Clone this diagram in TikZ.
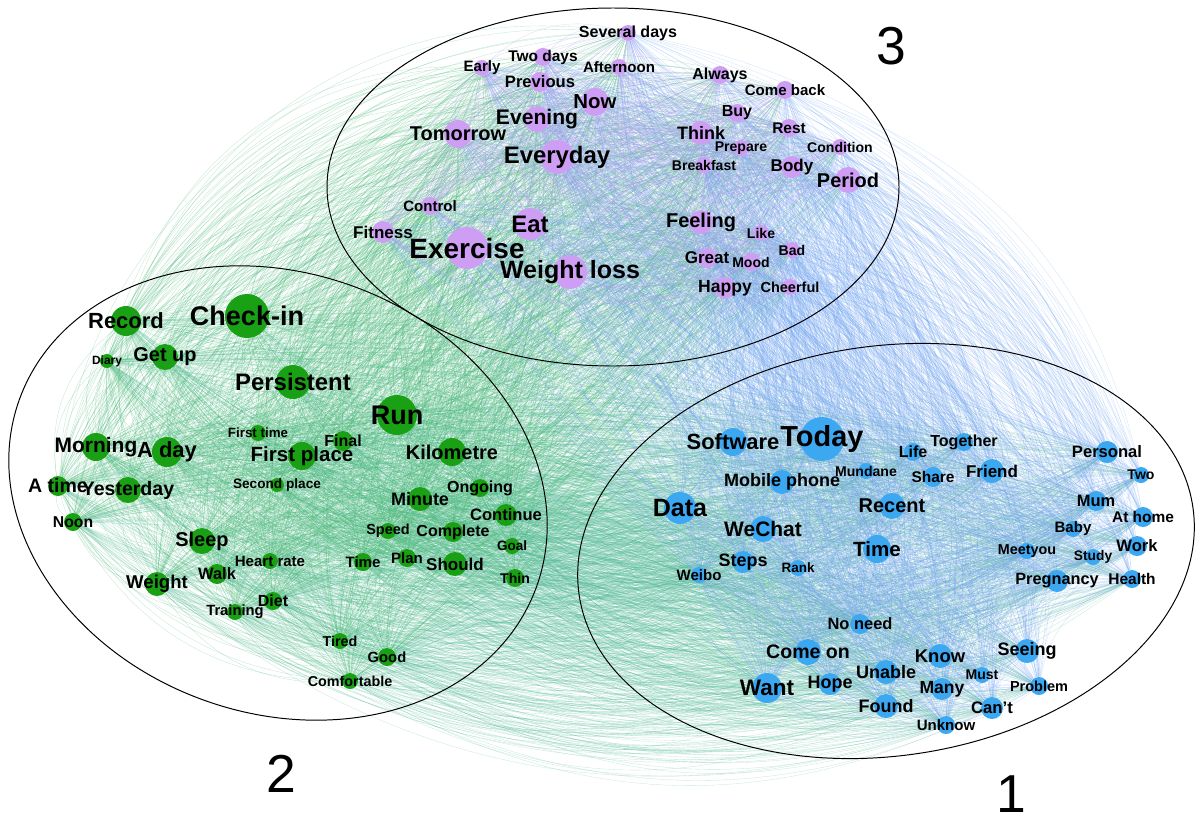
\documentclass[tikz,border=0pt]{standalone}
\usepackage{fontspec}
\setmainfont{Liberation Sans}
\definecolor{wGreen}{RGB}{25,160,20}
\definecolor{wBlue}{RGB}{60,168,242}
\definecolor{wPurple}{RGB}{205,158,244}
\definecolor{eGreen}{RGB}{70,182,118}
\definecolor{eTeal}{RGB}{75,182,145}
\definecolor{eBlue}{RGB}{115,165,240}
\definecolor{ePurple}{RGB}{175,155,242}
\pgfdeclarelayer{edges}
\pgfsetlayers{edges,main}

% word lists: name/x/y/radius/text/font size
\def\wordsThree{sevdays/628/33/8/Several days/11.4,
twodays/543/57/9/Two days/11,
early/482/68/8/Early/10.7,
afternoon/619/67/8/Afternoon/10.7,
previous/540/82/10/Previous/11.8,
now/595/102/14/Now/14.5,
evening/537/119/13/Evening/15,
tomorrow/458/134/14/Tomorrow/14.2,
everyday/557/157/17/Everyday/17,
always/720/75/9/Always/11.4,
comeback/785/90/9/Come back/10.7,
buy/737/113/9/Buy/11.4,
think/701/133/12/Think/12.8,
rest/789/128/9/Rest/11,
prepare/741/148/8/Prepare/10,
condition/840/147/8/Condition/10,
breakfast/704/165/8/Breakfast/10,
body/792/167/11/Body/12.1,
period/848/180/13/Period/14.2,
control/430/206/9/Control/10.7,
fitness/383/232/11/Fitness/12.1,
exercise/467/248/21/Exercise/19.9,
eat/530/224/16/Eat/17,
weightloss/570/272/17/Weight loss/17.8,
feeling/701/222/12/Feeling/14.2,
like/761/233/8/Like/10,
bad/792/250/8/Bad/10,
great/707/258/10/Great/12.1,
mood/751/262/9/Mood/10,
happy/725/288/11/Happy/12.5,
cheerful/790/287/8/Cheerful/10.3}

\def\wordsTwo{record/126/321/15/Record/15.6,
checkin/247/316/22/Check-in/19.2,
diary/107/361/7/Diary/8.5,
getup/165/357/13/Get up/14.2,
persistent/293/382/17/Persistent/17,
firsttime/258/433/8/First time/9.5,
morning/96/447/14/Morning/14.9,
aday/167/452/15/A day/15.6,
run/397/415/20/Run/19.2,
final/343/441/10/Final/11.4,
firstplace/302/456/14/First place/14.6,
kilometre/452/452/14/Kilometre/14.2,
secondplace/277/485/7/Second place/9.7,
ongoing/480/488/9/Ongoing/11.4,
minute/420/499/12/Minute/12.8,
continue/506/515/11/Continue/11.8,
speed/388/531/8/Speed/10.3,
complete/453/532/10/Complete/11.4,
goal/512/546/8/Goal/9.6,
heartrate/270/561/8/Heart rate/10.7,
timeg/363/562/9/Time/10.7,
plan/407/558/9/Plan/10.7,
should/455/564/12/Should/12.1,
thin/515/578/9/Thin/10,
atime/58/486/10/A time/13.9,
yesterday/128/490/13/Yesterday/13.9,
noon/73/522/9/Noon/11.2,
sleep/202/541/13/Sleep/14.2,
walk/217/574/10/Walk/11.7,
weight/157/584/12/Weight/13.2,
diet/273/601/9/Diet/11.4,
training/235/612/8/Training/10.5,
tired/340/641/8/Tired/10.2,
good/387/657/9/Good/10.5,
comfortable/350/681/8/Comfortable/10.2}

\def\wordsOne{software/733/442/14/Software/15.6,
today/822/439/22/Today/20.6,
mobilephone/782/482/12/Mobile phone/12.8,
mundane/866/471/8/Mundane/10,
data/680/508/16/Data/17.8,
recent/892/506/13/Recent/14.2,
wechat/763/529/13/WeChat/14.9,
timeb/877/549/14/Time/14.6,
steps/743/562/11/Steps/12.8,
rank/798/568/8/Rank/9.6,
weibo/699/575/8/Weibo/10.7,
life/913/452/9/Life/11.4,
together/964/442/9/Together/11.4,
share/933/477/10/Share/11,
friend/992/471/12/Friend/12.1,
personal/1107/452/11/Personal/11.8,
two/1141/475/8/Two/10,
mum/1096/501/10/Mum/11.7,
athome/1143/517/10/At home/11,
baby/1073/529/8/Baby/10.7,
meetyou/1027/551/8/Meetyou/10.2,
study/1093/557/8/Study/9.8,
work/1137/546/10/Work/11.8,
pregnancy/1057/581/11/Pregnancy/11.6,
health/1132/579/9/Health/11,
noneed/860/624/10/No need/11.7,
comeon/808/652/13/Come on/13.9,
want/767/688/15/Want/16,
hope/830/684/11/Hope/12.8,
unable/886/672/12/Unable/12.8,
found/886/706/12/Found/12.8,
know/940/656/12/Know/13.1,
seeing/1027/651/12/Seeing/12.8,
must/982/675/8/Must/10,
problem/1039/686/9/Problem/10.3,
many/942/689/11/Many/12.5,
cant/992/708/11/Can't/11.9,
unknow/946/725/9/Unknow/10.7}

\begin{document}
\begin{tikzpicture}[x=0.025cm, y=-0.025cm,
  lab/.style={font=\bfseries\fontsize{#1}{#1}\selectfont, inner sep=0pt},
  dotG/.style={circle, fill=wGreen, inner sep=0pt, minimum size=#1*0.05cm},
  dotB/.style={circle, fill=wBlue, inner sep=0pt, minimum size=#1*0.05cm},
  dotP/.style={circle, fill=wPurple, inner sep=0pt, minimum size=#1*0.05cm},
  linkG/.style={draw=eGreen, line width=0.25pt, opacity=0.32},
  linkT/.style={draw=eTeal, line width=0.25pt, opacity=0.3},
  linkB/.style={draw=eBlue, line width=0.25pt, opacity=0.3},
  linkP/.style={draw=ePurple, line width=0.25pt, opacity=0.38},
  group/.style={draw=black, line width=0.7pt},
  num/.style={font=\fontsize{38}{38}\selectfont, inner sep=0pt}]
  \useasboundingbox (0,0) rectangle (1200,822);

  % Word nodes
  \foreach \nm/\xx/\yy/\rad/\txt/\fs in \wordsThree
    \node[dotP=\rad] (\nm) at (\xx,\yy) {};
  \foreach \nm/\xx/\yy/\rad/\txt/\fs in \wordsTwo
    \node[dotG=\rad] (\nm) at (\xx,\yy) {};
  \foreach \nm/\xx/\yy/\rad/\txt/\fs in \wordsOne
    \node[dotB=\rad] (\nm) at (\xx,\yy) {};

  % Co-occurrence links
  \begin{pgfonlayer}{edges}
    % between groups (alternate the bend side)
    \foreach \a/\xa/\ya/\ra/\ta/\sa [count=\i] in \wordsTwo
      \foreach \b/\xb/\yb/\rb/\tb/\sb [count=\j] in \wordsOne
        {\ifodd\numexpr\i+\j\relax \draw[linkT] (\a) to[bend left=12] (\b);
         \else \draw[linkT] (\a) to[bend right=28] (\b); \fi}
    \foreach \a/\xa/\ya/\ra/\ta/\sa [count=\i] in \wordsThree
      \foreach \b/\xb/\yb/\rb/\tb/\sb [count=\j] in \wordsTwo
        {\ifodd\numexpr\i+\j\relax \draw[linkG] (\a) to[bend left=12] (\b);
         \else \draw[linkG] (\a) to[bend right=38] (\b); \fi}
    \foreach \a/\xa/\ya/\ra/\ta/\sa [count=\i] in \wordsOne
      \foreach \b/\xb/\yb/\rb/\tb/\sb [count=\j] in \wordsThree
        {\ifodd\numexpr\i+\j\relax \draw[linkB] (\a) to[bend left=12] (\b);
         \else \draw[linkB] (\a) to[bend right=30] (\b); \fi}
    % inside groups
    \foreach \a/\xa/\ya/\ra/\ta/\sa [count=\i] in \wordsThree
      \foreach \b/\xb/\yb/\rb/\tb/\sb [count=\j] in \wordsThree
        {\ifnum\j>\i \draw[linkP] (\a) to[bend right=30] (\b); \fi}
    \foreach \a/\xa/\ya/\ra/\ta/\sa [count=\i] in \wordsTwo
      \foreach \b/\xb/\yb/\rb/\tb/\sb [count=\j] in \wordsTwo
        {\ifnum\j>\i \draw[linkG] (\a) to[bend right=30] (\b); \fi}
    \foreach \a/\xa/\ya/\ra/\ta/\sa [count=\i] in \wordsOne
      \foreach \b/\xb/\yb/\rb/\tb/\sb [count=\j] in \wordsOne
        {\ifnum\j>\i \draw[linkB] (\a) to[bend right=30] (\b); \fi}
  \end{pgfonlayer}

  % Labels
  \foreach \nm/\xx/\yy/\rad/\txt/\fs in \wordsThree
    \node[lab=\fs] at (\nm) {\txt};
  \foreach \nm/\xx/\yy/\rad/\txt/\fs in \wordsTwo
    \node[lab=\fs] at (\nm) {\txt};
  \foreach \nm/\xx/\yy/\rad/\txt/\fs in \wordsOne
    \node[lab=\fs] at (\nm) {\txt};

  % Community outlines
  \draw[group] (613,187) ellipse [x radius=286, y radius=179];
  \draw[group, rotate around={-20:(278,493)}] (278,493) ellipse [x radius=275, y radius=220];
  \draw[group, rotate around={8:(886,551)}] (886,551) ellipse [x radius=310, y radius=205];

  \node[num] (grp3) at (891,46) {3};
  \node[num] (grp2) at (281,774) {2};
  \node[num] (grp1) at (1011,794) {1};
\end{tikzpicture}
\end{document}
